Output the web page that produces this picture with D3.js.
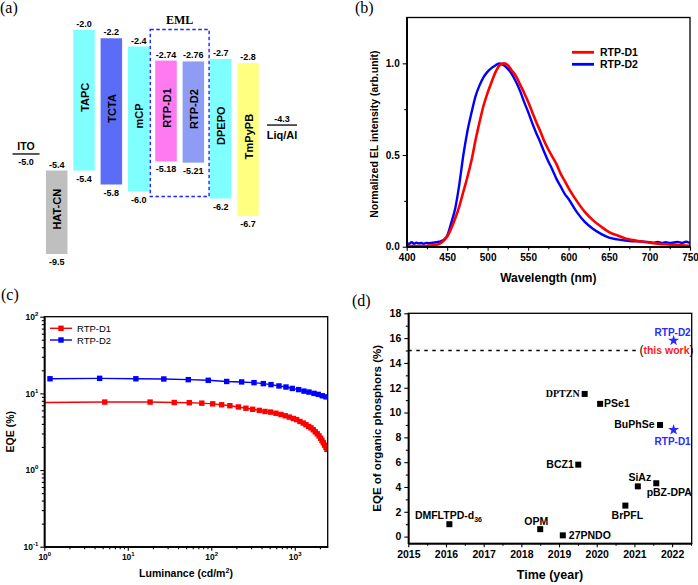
<!DOCTYPE html>
<html><head><meta charset="utf-8">
<script src="https://cdn.jsdelivr.net/npm/d3@7"></script>
<style>
body{margin:0;background:#fff;}
svg{display:block;}
</style></head><body>
<svg id="chart" width="698" height="585" font-family="Liberation Sans, Arial, sans-serif"></svg>
<script>
// ================= DATA =================
// (a) energy levels
const layers = ["HAT-CN","TAPC","TCTA","mCP","RTP-D1","RTP-D2","DPEPO","TmPyPB"];
const lumo   = [-5.4, -2.0, -2.2, -2.4, -2.74, -2.76, -2.7, -2.8];
const homo   = [-9.5, -5.4, -5.8, -6.0, -5.18, -5.21, -6.2, -6.7];
const lumoLabels = ["-5.4","-2.0","-2.2","-2.4","-2.74","-2.76","-2.7","-2.8"];
const homoLabels = ["-9.5","-5.4","-5.8","-6.0","-5.18","-5.21","-6.2","-6.7"];
const electrodes = ["ITO","Liq/Al"];
const electrodeLevels = [-5.0, -4.3];
const electrodeLabels = ["-5.0","-4.3"];

// (b) EL spectra
const wlD1 = [400,420,430,440,445,450,455,460,465,470,475,480,485,490,495,500,505,510,515,520,525,530,535,540,545,550,555,560,565,570,575,580,585,590,595,600,610,620,630,640,650,660,670,680,690,700,710,720,730,740,750];
const elD1 = [0.003,0.004,0.006,0.015,0.03,0.055,0.10,0.155,0.22,0.30,0.38,0.47,0.58,0.68,0.77,0.84,0.90,0.955,0.99,1.0,0.99,0.96,0.93,0.885,0.84,0.79,0.735,0.68,0.63,0.575,0.53,0.49,0.45,0.40,0.36,0.32,0.25,0.19,0.145,0.11,0.08,0.062,0.045,0.036,0.028,0.022,0.017,0.013,0.010,0.007,0.005];
const wlD2 = [400,403,406,409,412,415,418,421,424,427,430,433,436,440,445,450,455,460,465,470,475,480,485,490,495,500,505,510,515,520,525,530,535,540,545,550,555,560,565,570,575,580,585,590,595,600,610,620,630,640,650,660,670,680,690,700,705,710,715,720,725,730,735,740,745,750];
const elD2 = [0.02,0.015,0.025,0.016,0.022,0.018,0.02,0.016,0.021,0.019,0.02,0.022,0.024,0.027,0.035,0.06,0.13,0.21,0.34,0.50,0.63,0.73,0.82,0.88,0.925,0.955,0.975,0.99,1.0,0.99,0.97,0.94,0.90,0.85,0.79,0.735,0.675,0.62,0.57,0.515,0.465,0.42,0.37,0.33,0.29,0.26,0.19,0.135,0.098,0.07,0.05,0.04,0.034,0.03,0.028,0.025,0.022,0.026,0.021,0.024,0.02,0.023,0.026,0.021,0.027,0.02];

// (c) EQE vs luminance
const lumD1 = [0.95,5.3,18.5,36,54.5,77,104,133,167,211,260,313,376,440,514,595,683,770,860,960,1052,1153,1264,1361,1466,1563,1666,1762,1858,1950,2042,2118,2195,2279,2364,2430];
const eqeD1 = [7.6,7.7,7.7,7.6,7.55,7.45,7.3,7.1,6.9,6.65,6.4,6.2,6.0,5.8,5.7,5.5,5.3,5.1,4.9,4.7,4.55,4.3,4.1,3.9,3.7,3.55,3.35,3.15,2.97,2.79,2.6,2.43,2.27,2.11,1.97,1.86];
const lumD2 = [1.17,4.6,12.5,27,53,92,153,231,325,420,519,647,785,934,1113,1290,1480,1700,1910,2135,2364];
const eqeD2 = [15.5,15.7,15.5,15.4,15.1,14.8,14.3,14.1,13.8,13.4,13.0,12.5,12.1,11.6,11.2,10.7,10.4,10.0,9.7,9.3,9.0];

// (d) literature comparison
const refNames = ["DMFLTPD-d36","OPM","27PNDO","BCZ1","DPTZN","PSe1","BrPFL","SiAz","pBZ-DPA","BuPhSe"];
const refYears = [2016.09,2018.5,2019.1,2019.51,2019.68,2020.09,2020.76,2021.09,2021.58,2021.68];
const refEQE   = [1.0,0.6,0.1,5.8,11.5,10.7,2.5,4.05,4.3,9.0];
const workNames = ["RTP-D2","RTP-D1"];
const workYears = [2022.04,2022.04];
const workEQE   = [15.8,8.6];
const bestLevel = 15;
const bestLineYears = [2015, 2021.08];

// ================= STYLE / LAYOUT =================
const svg = d3.select("#chart");
const FONT = 'Liberation Sans, Arial, sans-serif';
const SERIF = 'Liberation Serif, Times New Roman, serif';
const layerFill = {"HAT-CN":"#bfbfbf","TAPC":"#80ffff","TCTA":"#5b6cf6","mCP":"#80ffff","RTP-D1":"#ff7af0","RTP-D2":"#8f9cf6","DPEPO":"#80ffff","TmPyPB":"#ffff80"};
const RED = "#ff0000", BLUE = "#0000ff", STAR = "#2a2aff";

function panelLetter(t, x, y){
  svg.append("text").attr("x",x).attr("y",y).attr("font-family",SERIF).attr("font-size",16).text(t);
}
panelLetter("(a)",0,13); panelLetter("(b)",355,13); panelLetter("(c)",1,300); panelLetter("(d)",352,306);

// ---------- (a) ----------
(function(){
  const g = svg.append("g");
  const y = d3.scaleLinear().domain([-2,-5.4,-6.7,-9.5]).range([30,170.5,216,254]);
  const x = d3.scalePoint().domain(layers).range([56.7,248]);
  const bw = 21.5;
  const lay = layers.map((n,i)=>({n, lumo:lumo[i], homo:homo[i], lt:lumoLabels[i], ht:homoLabels[i]}));
  g.selectAll("rect.bar").data(lay).join("rect")
    .attr("x",d=>x(d.n)-bw/2).attr("width",bw)
    .attr("y",d=>y(d.lumo)).attr("height",d=>y(d.homo)-y(d.lumo))
    .attr("fill",d=>layerFill[d.n]);
  g.selectAll("text.top").data(lay).join("text")
    .attr("x",d=>x(d.n)).attr("y",d=>y(d.lumo)-3)
    .attr("text-anchor","middle").attr("font-size",9).attr("font-weight","bold").text(d=>d.lt);
  g.selectAll("text.bot").data(lay).join("text")
    .attr("x",d=>x(d.n)).attr("y",d=>y(d.homo)+11)
    .attr("text-anchor","middle").attr("font-size",9).attr("font-weight","bold").text(d=>d.ht);
  g.selectAll("text.name").data(lay).join("text")
    .attr("transform",d=>`translate(${x(d.n)+0.5},${(y(d.lumo)+y(d.homo))/2-3}) rotate(-90)`)
    .attr("text-anchor","middle").attr("dominant-baseline","central")
    .attr("font-size",11).attr("font-weight","bold").text(d=>d.n);
  // EML box
  const x0 = x("RTP-D1")-bw/2-5, x1 = x("RTP-D2")+bw/2+5;
  g.append("rect").attr("x",x0).attr("y",29.5).attr("width",x1-x0).attr("height",167)
    .attr("fill","none").attr("stroke","#2222ff").attr("stroke-width",1.4).attr("stroke-dasharray","3.5,2.5");
  g.append("text").attr("x",(x0+x1)/2).attr("y",23.5).attr("text-anchor","middle")
    .attr("font-family",SERIF).attr("font-weight","bold").attr("font-size",12).text("EML");
  // electrodes
  const ex = {"ITO":[12.5,39.5],"Liq/Al":[267,297]};
  electrodes.forEach((n,i)=>{
    const yy = y(electrodeLevels[i]);
    const [a,b] = ex[n];
    g.append("line").attr("x1",a).attr("x2",b).attr("y1",yy).attr("y2",yy).attr("stroke","#000").attr("stroke-width",1.3);
    const cx=(a+b)/2;
    if(n==="ITO"){
      g.append("text").attr("x",cx).attr("y",yy-3.5).attr("text-anchor","middle").attr("font-size",10.5).attr("font-weight","bold").text(n);
      g.append("text").attr("x",cx).attr("y",yy+11).attr("text-anchor","middle").attr("font-size",9).attr("font-weight","bold").text(electrodeLabels[i]);
    } else {
      g.append("text").attr("x",cx).attr("y",yy-3).attr("text-anchor","middle").attr("font-size",9).attr("font-weight","bold").text(electrodeLabels[i]);
      g.append("text").attr("x",cx).attr("y",yy+14).attr("text-anchor","middle").attr("font-size",11).attr("font-weight","bold").text(n);
    }
  });
})();

// common axis styling
function styleAxis(sel, fs){
  sel.selectAll("path").attr("stroke","#000").attr("stroke-width",1.3);
  sel.selectAll("line").attr("stroke","#000").attr("stroke-width",1.1);
  sel.selectAll("text").attr("font-family",FONT).attr("font-weight","bold").attr("font-size",fs).attr("fill","#000");
}
function frame(L,T,R,B){
  svg.append("rect").attr("x",L).attr("y",T).attr("width",R-L).attr("height",B-T)
    .attr("fill","none").attr("stroke","#000").attr("stroke-width",1.3);
}

// ---------- (b) ----------
(function(){
  const L=406.7,R=690,T=17.5,B=246.7;
  const x = d3.scaleLinear().domain([400,750]).range([L,R]);
  const y = d3.scaleLinear().domain([0,1.25]).range([B,T]);
  const g = svg.append("g");
  const line = d3.line().x(d=>x(d[0])).y(d=>y(d[1])).curve(d3.curveMonotoneX);
  svg.append("clipPath").attr("id","clipb").append("rect").attr("x",L).attr("y",T).attr("width",R-L).attr("height",B-T);
  g.append("path").datum(wlD2.map((w,i)=>[w,elD2[i]])).attr("d",line).attr("fill","none").attr("stroke",BLUE).attr("stroke-width",2.4).attr("clip-path","url(#clipb)");
  g.append("path").datum(wlD1.map((w,i)=>[w,elD1[i]])).attr("d",line).attr("fill","none").attr("stroke",RED).attr("stroke-width",2.6).attr("clip-path","url(#clipb)");
  const ax = g.append("g").attr("transform",`translate(0,${B})`)
    .call(d3.axisBottom(x).tickValues(d3.range(400,751,50)).tickSize(4).tickSizeOuter(0).tickPadding(3));
  styleAxis(ax,10);
  const axm = g.append("g").attr("transform",`translate(0,${B})`)
    .call(d3.axisBottom(x).tickValues(d3.range(425,750,50)).tickSize(2.5).tickFormat("").tickSizeOuter(0));
  styleAxis(axm,10);
  const ay = g.append("g").attr("transform",`translate(${L},0)`)
    .call(d3.axisLeft(y).tickValues([0,0.5,1.0]).tickFormat(d3.format(".1f")).tickSize(4).tickSizeOuter(0).tickPadding(3));
  styleAxis(ay,10);
  const aym = g.append("g").attr("transform",`translate(${L},0)`)
    .call(d3.axisLeft(y).tickValues([0.25,0.75]).tickFormat("").tickSize(2.5).tickSizeOuter(0));
  styleAxis(aym,10);
  frame(L,T,R,B);
  // legend
  [["RTP-D1",RED,52.3],["RTP-D2",BLUE,64.3]].forEach(([t,c,yy])=>{
    g.append("line").attr("x1",572).attr("x2",594).attr("y1",yy).attr("y2",yy).attr("stroke",c).attr("stroke-width",2.8);
    g.append("text").attr("x",600).attr("y",yy+4).attr("font-size",10.5).attr("font-weight","bold").text(t);
  });
  g.append("text").attr("x",(L+R)/2).attr("y",282).attr("text-anchor","middle").attr("font-size",12).attr("font-weight","bold").text("Wavelength (nm)");
  g.append("text").attr("transform",`translate(378,${(T+B)/2+2}) rotate(-90)`).attr("text-anchor","middle").attr("font-size",10.5).attr("font-weight","bold").text("Normalized EL intensity (arb.unit)");
})();

// log-label helper
function supLabels(axisSel){
  axisSel.selectAll(".tick text").each(function(d){
    const t = d3.select(this);
    const e = Math.round(Math.log10(d));
    t.text(null);
    t.append("tspan").text("10");
    t.append("tspan").attr("dy",-4).attr("font-size",6).text(e);
  });
}

// ---------- (c) ----------
(function(){
  const L=44.3,R=327.7,T=316.7,B=546.7;
  const x = d3.scaleLog().domain([1,2480]).range([L,R]);
  const y = d3.scaleLog().domain([0.1,100]).range([B,T]);
  const g = svg.append("g");
  svg.append("clipPath").attr("id","clipc").append("rect").attr("x",L).attr("y",T).attr("width",R-L).attr("height",B-T);
  const line = d3.line().x(d=>x(d[0])).y(d=>y(d[1]));
  const series = [[lumD2,eqeD2,BLUE],[lumD1,eqeD1,RED]];
  series.forEach(([lx,ly,c])=>{
    const pts = lx.map((v,i)=>[v,ly[i]]);
    const sg = g.append("g").attr("clip-path","url(#clipc)");
    sg.append("path").datum(pts).attr("d",line).attr("fill","none").attr("stroke",c).attr("stroke-width",1.4);
    sg.selectAll("rect").data(pts).join("rect").attr("x",d=>x(d[0])-2.7).attr("y",d=>y(d[1])-2.7)
      .attr("width",5.4).attr("height",5.4).attr("fill",c);
  });
  const ax = g.append("g").attr("transform",`translate(0,${B})`)
    .call(d3.axisBottom(x).tickValues([1,10,100,1000]).tickSize(4).tickSizeOuter(0).tickPadding(3));
  styleAxis(ax,8.5); supLabels(ax);
  const minX=[]; [1,10,100,1000].forEach(p=>{for(let k=2;k<=9;k++){const v=p*k; if(v<2480) minX.push(v);}});
  const axm = g.append("g").attr("transform",`translate(0,${B})`)
    .call(d3.axisBottom(x).tickValues(minX).tickFormat("").tickSize(2.5).tickSizeOuter(0));
  styleAxis(axm,8);
  const ay = g.append("g").attr("transform",`translate(${L},0)`)
    .call(d3.axisLeft(y).tickValues([0.1,1,10,100]).tickSize(4).tickSizeOuter(0).tickPadding(2));
  styleAxis(ay,8.5); supLabels(ay);
  const minY=[]; [0.1,1,10].forEach(p=>{for(let k=2;k<=9;k++) minY.push(p*k);});
  const aym = g.append("g").attr("transform",`translate(${L},0)`)
    .call(d3.axisLeft(y).tickValues(minY).tickFormat("").tickSize(2.5).tickSizeOuter(0));
  styleAxis(aym,8);
  frame(L,T,R,B);
  [["RTP-D1",RED,328.3],["RTP-D2",BLUE,340]].forEach(([t,c,yy])=>{
    g.append("line").attr("x1",50).attr("x2",72).attr("y1",yy).attr("y2",yy).attr("stroke",c).attr("stroke-width",1.4);
    g.append("rect").attr("x",58.3).attr("y",yy-2.7).attr("width",5.4).attr("height",5.4).attr("fill",c);
    g.append("text").attr("x",77).attr("y",yy+3.5).attr("font-size",9.5).text(t);
  });
  const xt = g.append("text").attr("x",(L+R)/2).attr("y",577).attr("text-anchor","middle").attr("font-size",10.5).attr("font-weight","bold");
  xt.append("tspan").text("Luminance (cd/m");
  xt.append("tspan").attr("dy",-4).attr("font-size",7).text("2");
  xt.append("tspan").attr("dy",4).text(")");
  g.append("text").attr("transform",`translate(14,${(T+B)/2}) rotate(-90)`).attr("text-anchor","middle").attr("font-size",10.5).attr("font-weight","bold").text("EQE (%)");
})();

// ---------- (d) ----------
(function(){
  const L=408.3,R=691.7,T=313.3,B=543.3;
  const x = d3.scaleLinear().domain([2015,2022.52]).range([L,R]);
  const y = d3.scaleLinear().domain([-0.54,18]).range([B,T]);
  const g = svg.append("g");
  g.append("line").attr("x1",x(bestLineYears[0])).attr("x2",x(bestLineYears[1]))
    .attr("y1",y(bestLevel)).attr("y2",y(bestLevel)).attr("stroke","#000").attr("stroke-width",1.6).attr("stroke-dasharray","3.5,4.5");
  const refs = refNames.map((n,i)=>({n, yr:refYears[i], v:refEQE[i]}));
  g.selectAll("rect.pt").data(refs).join("rect")
    .attr("x",d=>x(d.yr)-3).attr("y",d=>y(d.v)-3).attr("width",6).attr("height",6).attr("fill","#000");
  const lab = {
    "DMFLTPD-d36":{dx:-34.5,dy:-5.5,a:"start"},
    "OPM":{dx:-4,dy:-4.5,a:"middle"},
    "27PNDO":{dx:6,dy:4,a:"start"},
    "BCZ1":{dx:-4.5,dy:3.5,a:"end"},
    "DPTZN":{dx:-5,dy:3.5,a:"end",serif:true},
    "PSe1":{dx:4,dy:3.5,a:"start"},
    "BrPFL":{dx:2,dy:13.5,a:"middle"},
    "SiAz":{dx:2,dy:-5,a:"middle"},
    "pBZ-DPA":{dx:13,dy:12.5,a:"middle"},
    "BuPhSe":{dx:-5.5,dy:3.5,a:"end"}
  };
  refs.forEach(d=>{
    const o = lab[d.n];
    const t = g.append("text").attr("x",x(d.yr)+o.dx).attr("y",y(d.v)+o.dy).attr("text-anchor",o.a)
      .attr("font-size",o.serif?10:10.5).attr("font-weight","bold").attr("font-family",o.serif?SERIF:FONT);
    if(d.n==="DMFLTPD-d36"){
      t.append("tspan").text("DMFLTPD-d");
      t.append("tspan").attr("dy",3).attr("font-size",7).text("36");
    } else t.text(d.n);
  });
  const star = d3.symbol().type(d3.symbolStar).size(38);
  const works = workNames.map((n,i)=>({n, yr:workYears[i], v:workEQE[i]}));
  g.selectAll("path.star").data(works).join("path").attr("d",star)
    .attr("transform",d=>`translate(${x(d.yr)},${y(d.v)})`).attr("fill",STAR);
  works.forEach(d=>{
    const dy = d.n==="RTP-D2" ? -5 : 15.5;
    g.append("text").attr("x",x(d.yr)-1).attr("y",y(d.v)+dy).attr("text-anchor","middle")
      .attr("font-size",10).attr("font-weight","bold").attr("fill",STAR).text(d.n);
  });
  const tw = g.append("text").attr("x",x(bestLineYears[1])+2).attr("y",y(bestLevel)+3.5).attr("font-size",10.5).attr("font-weight","bold").attr("fill","#000");
  tw.append("tspan").attr("font-weight","normal").attr("font-size",12).text("(");
  tw.append("tspan").attr("fill","#ff1a1a").text("this work");
  tw.append("tspan").attr("font-weight","normal").attr("font-size",12).text(")");

  const ax = g.append("g").attr("transform",`translate(0,${B})`)
    .call(d3.axisBottom(x).tickValues(d3.range(2015,2023,1)).tickFormat(d3.format("d")).tickSize(4).tickSizeOuter(0).tickPadding(3));
  styleAxis(ax,10.5);
  const axm = g.append("g").attr("transform",`translate(0,${B})`)
    .call(d3.axisBottom(x).tickValues(d3.range(2015.5,2022.6,1)).tickFormat("").tickSize(2.5).tickSizeOuter(0));
  styleAxis(axm,10);
  const ay = g.append("g").attr("transform",`translate(${L},0)`)
    .call(d3.axisLeft(y).tickValues(d3.range(0,19,2)).tickSize(4).tickSizeOuter(0).tickPadding(3));
  styleAxis(ay,10.5);
  const aym = g.append("g").attr("transform",`translate(${L},0)`)
    .call(d3.axisLeft(y).tickValues(d3.range(1,18,2)).tickFormat("").tickSize(2.5).tickSizeOuter(0));
  styleAxis(aym,10);
  frame(L,T,R,B);
  g.append("text").attr("x",(L+R)/2).attr("y",579).attr("text-anchor","middle").attr("font-size",12.5).attr("font-weight","bold").text("Time (year)");
  g.append("text").attr("transform",`translate(381,${(T+B)/2}) rotate(-90)`).attr("text-anchor","middle").attr("font-size",11.5).attr("font-weight","bold").text("EQE of organic phosphors (%)");
})();
</script>
</body></html>
